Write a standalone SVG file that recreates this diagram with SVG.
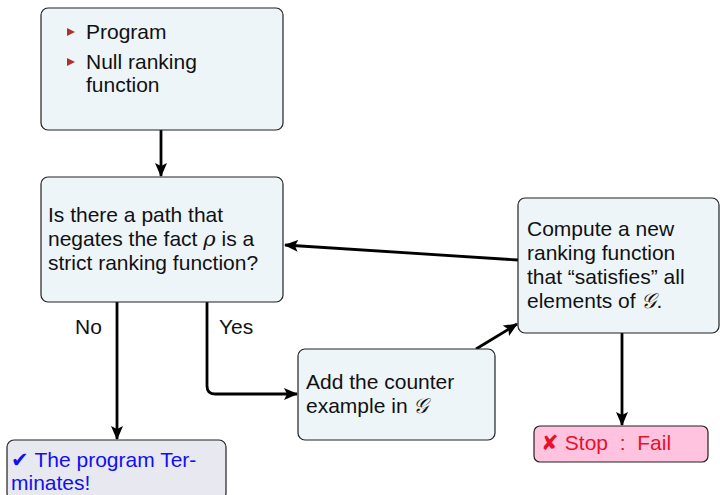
<svg xmlns="http://www.w3.org/2000/svg" width="720" height="495" viewBox="0 0 720 495">
<style>
.box{fill:#EEF5F9;stroke:#222;stroke-width:1.2}
.t{font-family:"Liberation Sans",Arial,sans-serif;font-size:21px;fill:#111}
.c{fill:none;stroke:#000;stroke-width:2.8}
.m{font-family:"DejaVu Serif","Liberation Serif",serif;font-style:italic}
</style>
<defs>
<marker id="ah" markerWidth="14" markerHeight="12" refX="13" refY="6" orient="auto" markerUnits="userSpaceOnUse" viewBox="0 0 14 12">
<path d="M0,0 L14,6 L0,12 L3,6 Z" fill="#000"/>
</marker>
</defs>
<rect width="720" height="495" fill="#fff"/>
<g id="connectors">
<line class="c" x1="161" y1="130" x2="161" y2="176" marker-end="url(#ah)"/>
<line class="c" x1="518" y1="260" x2="285" y2="245" marker-end="url(#ah)"/>
<line class="c" x1="117" y1="302" x2="117" y2="439" marker-end="url(#ah)"/>
<path class="c" d="M207,302 V386 Q207,394 215,394 H297" marker-end="url(#ah)"/>
<line class="c" x1="476" y1="349" x2="517" y2="324" marker-end="url(#ah)"/>
<line class="c" x1="622" y1="333" x2="622" y2="425" marker-end="url(#ah)"/>
<text class="t" x="75" y="334">No</text>
<text class="t" x="219" y="334">Yes</text>
</g>
<g id="start">
<rect class="box" x="41" y="8" width="242" height="122" rx="7"/>
<path d="M67,28 L75,32 L67,36 Z" fill="#B03030"/>
<path d="M67,58 L75,62 L67,66 Z" fill="#B03030"/>
<text class="t" x="86" y="39">Program</text>
<text class="t" x="86" y="69">Null ranking</text>
<text class="t" x="86" y="92">function</text>
</g>
<g id="question">
<rect class="box" x="41" y="177" width="242" height="125" rx="7"/>
<text class="t" x="48" y="222">Is there a path that</text>
<text class="t" x="48" y="246">negates the fact <tspan class="m">ρ</tspan> is a</text>
<text class="t" x="48" y="270">strict ranking function?</text>
</g>
<g id="compute">
<rect class="box" x="518" y="198" width="201" height="135" rx="7"/>
<text class="t" x="527" y="236">Compute a new</text>
<text class="t" x="527" y="260">ranking function</text>
<text class="t" x="527" y="284">that “satisfies” all</text>
<text class="t" x="527" y="308">elements of <tspan class="m">𝒢</tspan>.</text>
</g>
<g id="add">
<rect class="box" x="298" y="349" width="197" height="91" rx="7"/>
<text class="t" x="306" y="389">Add the counter</text>
<text class="t" x="306" y="413">example in <tspan class="m">𝒢</tspan></text>
</g>
<g id="terminates">
<rect x="7" y="440" width="219" height="60" rx="7" fill="#E8E8F1" stroke="#222" stroke-width="1.2"/>
<text class="t" x="11" y="467" style="fill:#1010F0">✔ The program Ter-</text>
<text class="t" x="11" y="490" style="fill:#1010F0">minates!</text>
</g>
<g id="fail">
<rect x="534" y="426" width="174" height="36" rx="6" fill="#FFC3DF" stroke="#222" stroke-width="1.2"/>
<text class="t" x="541" y="450" style="fill:#E8102A" xml:space="preserve">✘ Stop  :  Fail</text>
</g>
</svg>
